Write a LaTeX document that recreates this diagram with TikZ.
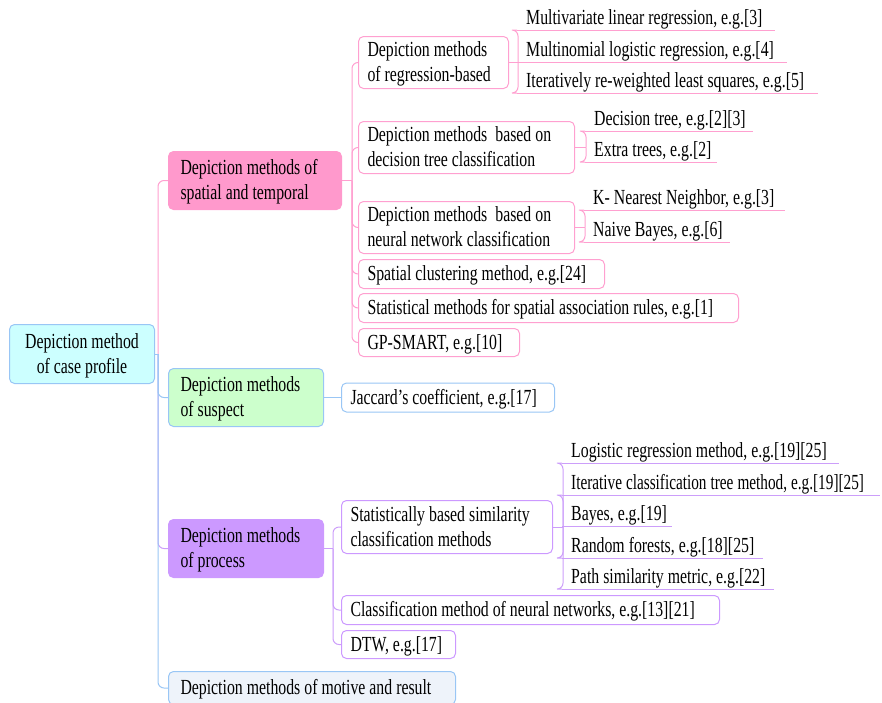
\documentclass[tikz,border=0pt]{standalone}
\usepackage{fontspec}
\setmainfont{Liberation Serif}[FakeStretch=0.735]
\definecolor{pk}{HTML}{FF99CC}
\definecolor{pline}{HTML}{FFA0D0}
\definecolor{bline}{HTML}{99C6F5}
\definecolor{uline}{HTML}{CC9EFA}
\definecolor{pu}{HTML}{CC99FF}
\definecolor{cyanfill}{HTML}{CCFFFF}
\definecolor{grfill}{HTML}{CCFFCC}
\definecolor{motfill}{HTML}{EEF3FA}
\tikzset{
  txt/.style={font=\fontsize{21.5}{25}\selectfont, execute at begin node={\spaceskip=4pt\relax\xspaceskip=4pt\relax}},
  box/.style={txt, rounded corners=5pt, line width=1pt, anchor=north west, inner ysep=0pt, align=left},
  lone/.style={inner xsep=12pt},
  ltwo/.style={inner xsep=9pt, fill=white},
  one/.style={text height=20pt, text depth=7pt},
  two/.style={text height=20pt, text depth=32pt},
  leaf/.style={txt, anchor=south west, inner xsep=9pt, inner ysep=0pt, text height=15pt, text depth=5.5pt, align=left},
  pl/.style={draw=pline, line width=1pt},
  bl/.style={draw=bline, line width=1pt},
  ul/.style={draw=uline, line width=1pt},
  rc/.style={rounded corners=6pt},
}
\begin{document}
\begin{tikzpicture}[x=1pt,y=-1pt]
\clip (0,0) rectangle (882,702);
% level 0 and 1
\node[box,two,bl,fill=cyanfill,align=center,inner xsep=10pt,minimum width=145pt,minimum height=59pt,text width=125pt] (root) at (9,324) {\mbox{Depiction method}\\\mbox{of case profile}};
\node[box,two,lone,draw=pk,fill=pk,minimum width=173pt,minimum height=58pt,text width=149pt] (st) at (168,151) {\mbox{Depiction methods of}\\\mbox{spatial and temporal}};
\node[box,two,lone,bl,fill=grfill,minimum width=155pt,minimum height=58pt,text width=131pt] (sus) at (168,368) {\mbox{Depiction methods}\\\mbox{of suspect}};
\node[box,two,lone,draw=pu,fill=pu,minimum width=155pt,minimum height=58pt,text width=131pt] (proc) at (168,519) {\mbox{Depiction methods}\\\mbox{of process}};
\node[box,one,lone,bl,fill=motfill,minimum width=287pt,minimum height=33pt,text width=263pt] (mot) at (168,671) {\mbox{Depiction methods of motive and result}};
% level 2 spatial and temporal
\node[box,two,ltwo,pl,minimum width=150pt,minimum height=52pt,text width=132pt] (reg) at (358,36) {\mbox{Depiction methods}\\\mbox{of regression-based}};
\node[box,two,ltwo,pl,minimum width=216pt,minimum height=52pt,text width=198pt] (dec) at (358,121) {\mbox{Depiction methods\ \ based on}\\\mbox{decision tree classification}};
\node[box,two,ltwo,pl,minimum width=216pt,minimum height=52pt,text width=198pt] (neu) at (358,201) {\mbox{Depiction methods\ \ based on}\\\mbox{neural network classification}};
\node[box,one,ltwo,pl,minimum width=246pt,minimum height=29pt,text width=228pt] (clu) at (358,259) {\mbox{Spatial clustering method, e.g.[24]}};
\node[box,one,ltwo,pl,minimum width=380pt,minimum height=29pt,text width=362pt] (sta) at (358,293) {\mbox{Statistical methods for spatial association rules, e.g.[1]}};
\node[box,one,ltwo,pl,minimum width=161pt,minimum height=28pt,text width=143pt] (gp) at (358,328) {\mbox{GP-SMART, e.g.[10]}};
% level 2 suspect
\node[box,one,ltwo,bl,minimum width=213pt,minimum height=29pt,text width=195pt] (jac) at (341,382.5) {\mbox{Jaccard’s coefficient, e.g.[17]}};
% level 2 process
\node[box,two,ltwo,draw=pu,minimum width=211pt,minimum height=53pt,text width=193pt] (sim) at (341,500) {\mbox{Statistically based similarity}\\\mbox{classification methods}};
\node[box,one,ltwo,draw=pu,minimum width=378pt,minimum height=29pt,text width=360pt] (cls) at (341,595) {\mbox{Classification method of neural networks, e.g.[13][21]}};
\node[box,one,ltwo,draw=pu,minimum width=114pt,minimum height=28pt,text width=96pt] (dtw) at (341,630) {\mbox{DTW, e.g.[17]}};
% leaves
\node[leaf,minimum width=258pt,text width=240pt] (l1) at (517,30) {\mbox{Multivariate linear regression, e.g.[3]}};
\node[leaf,minimum width=270pt,text width=252pt] (l2) at (517,62) {\mbox{Multinomial logistic regression, e.g.[4]}};
\node[leaf,minimum width=301pt,text width=283pt] (l3) at (517,93) {\mbox{Iteratively re-weighted least squares, e.g.[5]}};
\node[leaf,minimum width=168pt,text width=150pt] (l4) at (585,131) {\mbox{Decision tree, e.g.[2][3]}};
\node[leaf,minimum width=132pt,text width=114pt] (l5) at (585,162) {\mbox{Extra trees, e.g.[2]}};
\node[leaf,minimum width=201pt,text width=183pt] (l6) at (584,210) {\mbox{K- Nearest Neighbor, e.g.[3]}};
\node[leaf,minimum width=146pt,text width=128pt] (l7) at (584,242) {\mbox{Naive Bayes, e.g.[6]}};
\node[leaf,minimum width=277pt,text width=259pt] (l8) at (562,463) {\mbox{Logistic regression method, e.g.[19][25]}};
\node[leaf,minimum width=318pt,text width=300pt] (l9) at (562,495) {\mbox{\addfontfeature{FakeStretch=0.71}Iterative classification tree method, e.g.[19][25]}};
\node[leaf,minimum width=110pt,text width=92pt] (l10) at (562,526.5) {\mbox{Bayes, e.g.[19]}};
\node[leaf,minimum width=201pt,text width=183pt] (l11) at (562,558) {\mbox{Random forests, e.g.[18][25]}};
\node[leaf,minimum width=212pt,text width=194pt] (l12) at (562,589) {\mbox{Path similarity metric, e.g.[22]}};
% junctions
\coordinate (rj) at ([xshift=3pt]root.east);
\coordinate (sj) at ([xshift=10pt]st.east);
\coordinate (rgj) at ([xshift=9pt]reg.east);
\coordinate (dcj) at ([xshift=11pt]dec.east);
\coordinate (nuj) at ([xshift=10pt]neu.east);
\coordinate (pj) at ([xshift=9pt]proc.east);
\coordinate (smj) at ([xshift=10pt]sim.east);
% root connectors
\draw[ul,rc] (rj) |- (proc.west);
\draw[pl,rc] (rj) |- (st.west);
\draw[bl,rc] (rj) |- (sus.west);
\draw[bl,rc] (rj) |- (mot.west);
\draw[bl] (root.east) -- (rj);
% spatial and temporal
\draw[pl] (st.east) -- (sj);
\foreach \n in {reg,dec,neu,clu,sta,gp} \draw[pl,rc] (sj) |- (\n.west);
\draw[pl] (reg.east) -- (rgj);
\draw[pl,rc] (rgj) |- (l1.south west);
\draw[pl,rc] (rgj) |- (l3.south west);
\draw[pl] (dec.east) -- (dcj);
\draw[pl,rc] (dcj) |- (l4.south west);
\draw[pl,rc] (dcj) |- (l5.south west);
\draw[pl] (neu.east) -- (nuj);
\draw[pl,rc] (nuj) |- (l6.south west);
\draw[pl,rc] (nuj) |- (l7.south west);
\foreach \n in {l1,l2,l3,l4,l5,l6,l7} \draw[pl] (\n.south west) -- (\n.south east);
% suspect
\draw[bl] (sus.east) -- (jac.west);
% process
\draw[ul] (proc.east) -- (pj);
\foreach \n in {sim,cls,dtw} \draw[ul,rc] (pj) |- (\n.west);
\draw[ul] (sim.east) -- (smj);
\foreach \n in {l8,l9,l11,l12} \draw[ul,rc] (smj) |- (\n.south west);
\foreach \n in {l8,l9,l10,l11,l12} \draw[ul] (\n.south west) -- (\n.south east);
\end{tikzpicture}
\end{document}
